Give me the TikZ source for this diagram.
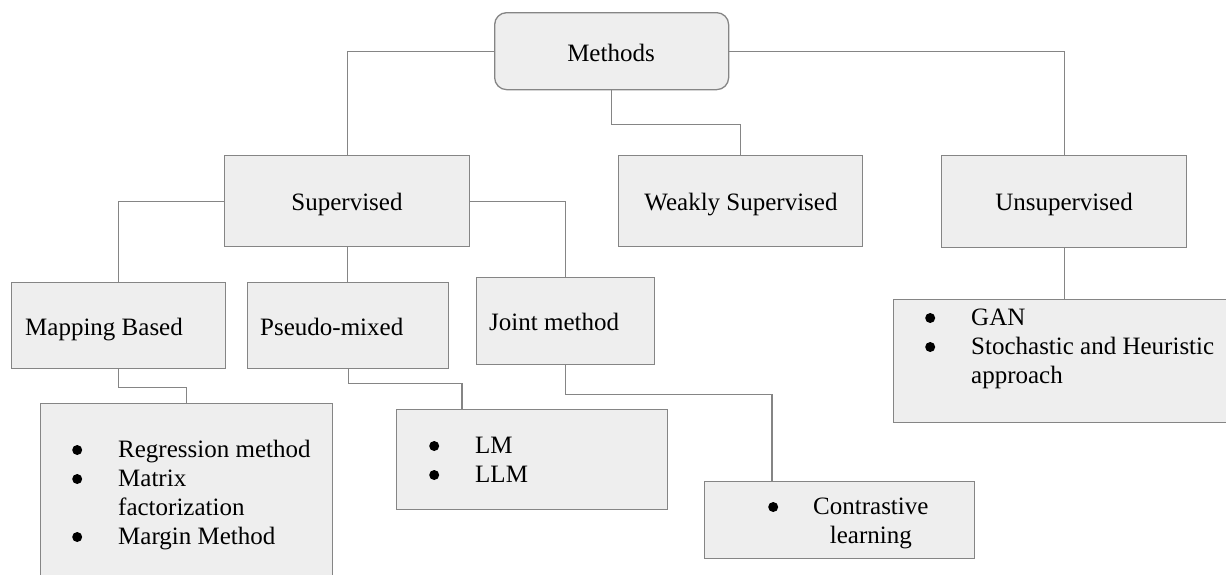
\documentclass[tikz,border=0pt]{standalone}
\usepackage{fontspec}
\setmainfont{Liberation Serif}
\definecolor{boxfill}{HTML}{EEEEEE}
\definecolor{edgegray}{HTML}{858585}
% round bullet followed by a fixed indent, as in the list boxes
\newcommand{\lbul}[1][46pt]{\makebox[#1][l]{\raisebox{2pt}{\tikz\fill[black] (0,0) circle (5pt);}}}

\begin{document}
\begin{tikzpicture}[x=1pt,y=-1pt,
  box/.style={draw=edgegray, fill=boxfill, line width=1.3pt, anchor=north west, inner sep=0pt},
  conn/.style={draw=edgegray, line width=1.3pt},
  txt/.style={inner sep=0pt, font=\fontsize{25}{29}\selectfont},
]
\useasboundingbox (0,0) rectangle (1226,574);
\clip (0,0) rectangle (1226,574);

% boxes
\node[box, rounded corners=12pt, minimum width=234pt, minimum height=77pt] (methods) at (494,12) {};
\node[box, minimum width=245pt, minimum height=91pt] (sup) at (224,155) {};
\node[box, minimum width=244pt, minimum height=91pt] (wsup) at (618,155) {};
\node[box, minimum width=245pt, minimum height=92pt] (unsup) at (941,155) {};
\node[box, minimum width=214pt, minimum height=86pt] (map) at (11,282) {};
\node[box, minimum width=201pt, minimum height=86pt] (pseudo) at (247,282) {};
\node[box, minimum width=178pt, minimum height=87pt] (joint) at (476,277) {};
\node[box, minimum width=292pt, minimum height=190pt] (maplist) at (40,403) {};
\node[box, minimum width=271pt, minimum height=100pt] (lmlist) at (396,409) {};
\node[box, minimum width=270pt, minimum height=77pt] (conlist) at (704,481) {};
\node[box, minimum width=341pt, minimum height=123pt] (unlist) at (893,299) {};

% labels
\node[txt, anchor=base] (tmethods) at (611,61) {Methods};
\node[txt, anchor=base] (tsup) at (347,210) {Supervised};
\node[txt, anchor=base] (twsup) at (741,210) {Weakly Supervised};
\node[txt, anchor=base] (tunsup) at (1064,210) {Unsupervised};
\node[txt, anchor=base west] (tmap) at (25,335) {Mapping Based};
\node[txt, anchor=base west] (tpseudo) at (260,335) {Pseudo-mixed};
\node[txt, anchor=base west] (tjoint) at (489,330) {Joint method};

% bullet lists
\node[txt, anchor=base west] (lmap) at (72,457) {\begin{tabular}[t]{@{}l@{}l@{}}
  \lbul & Regression method\\
  \lbul & Matrix\\
        & factorization\\
  \lbul & Margin Method
\end{tabular}};
\node[txt, anchor=base west] (llm) at (429,453) {\begin{tabular}[t]{@{}l@{}l@{}}
  \lbul & LM\\
  \lbul & LLM
\end{tabular}};
\node[txt, anchor=base west] (lcon) at (768,514) {\begin{tabular}[t]{@{}l@{}c@{}}
  \lbul[45pt] & Contrastive\\
              & learning
\end{tabular}};
\node[txt, anchor=base west] (lun) at (925,325) {\begin{tabular}[t]{@{}l@{}l@{}}
  \lbul & GAN\\
  \lbul & Stochastic and Heuristic\\
        & approach
\end{tabular}};

% connectors
\draw[conn] (methods.west) -| (sup.north);
\draw[conn] (methods.east) -| (unsup.north);
\draw[conn] (methods.south) -- ++(0,34) -| (wsup.north);
\draw[conn] (sup.west) -| (map.north);
\draw[conn] (sup.south) -- (pseudo.north -| sup.south);
\draw[conn] (sup.east) -| (joint.north);
\draw[conn] (map.south) -- ++(0,18) -| (maplist.north);
\draw[conn] (pseudo.south) -- ++(0,14) -| ([xshift=66pt]lmlist.north west);
\draw[conn] (joint.south) -- ++(0,29) -| ([xshift=68pt]conlist.north west);
\draw[conn] (unsup.south) -- (unlist.north);
\end{tikzpicture}
\end{document}
